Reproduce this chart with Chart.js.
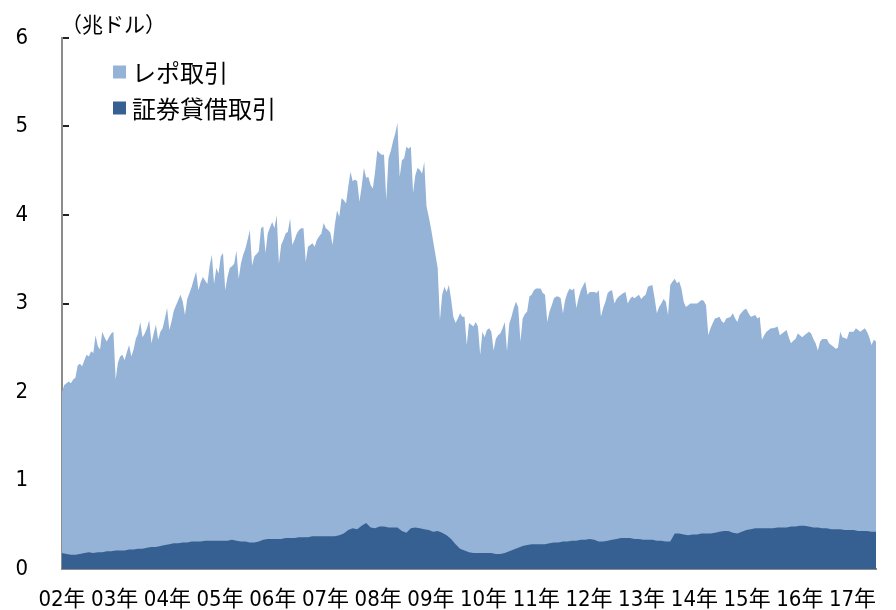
<!DOCTYPE html>
<html lang="ja">
<head>
<meta charset="utf-8">
<title>レポ取引・証券貸借取引</title>
<script src="https://cdn.jsdelivr.net/npm/chart.js@4/dist/chart.umd.min.js"></script>
<style>
  html, body { margin: 0; padding: 0; background: #fff; }
  canvas { display: block; }
</style>
</head>
<body>
<canvas id="graphique" width="896" height="610"></canvas>
<script>
// 上端（レポ取引＋証券貸借取引の合計）: 半月ごと、02年1月から（兆ドル）
const goukei = [
  2.00, 2.08, 2.10, 2.12, 2.10, 2.14, 2.16, 2.30, 2.32, 2.29, 2.36, 2.42, 2.40, 2.46, 2.44, 2.64, 2.52, 2.48, 2.68, 2.62, 2.57, 2.62, 2.66, 2.68, // 02
  2.14, 2.33, 2.40, 2.42, 2.36, 2.45, 2.53, 2.40, 2.48, 2.60, 2.66, 2.79, 2.62, 2.66, 2.72, 2.81, 2.55, 2.66, 2.76, 2.59, 2.68, 2.72, 2.83, 2.95, // 03
  2.70, 2.80, 2.92, 2.98, 3.04, 3.10, 3.02, 2.87, 3.05, 3.12, 3.19, 3.28, 3.36, 3.15, 3.24, 3.30, 3.26, 3.22, 3.42, 3.55, 3.22, 3.40, 3.34, 3.53, // 04
  3.57, 3.15, 3.30, 3.40, 3.42, 3.45, 3.60, 3.28, 3.45, 3.55, 3.62, 3.72, 3.83, 3.43, 3.53, 3.56, 3.59, 3.85, 3.87, 3.57, 3.79, 3.86, 3.92, 3.85, // 05
  4.00, 3.45, 3.66, 3.72, 3.79, 3.81, 3.96, 3.66, 3.72, 3.79, 3.83, 3.85, 3.85, 3.47, 3.64, 3.66, 3.68, 3.64, 3.72, 3.76, 3.79, 3.91, 3.85, 3.83, // 06
  3.80, 3.66, 3.89, 4.05, 3.98, 4.19, 4.17, 4.13, 4.32, 4.49, 4.38, 4.40, 4.38, 4.15, 4.32, 4.53, 4.42, 4.43, 4.34, 4.30, 4.49, 4.73, 4.70, 4.68, // 07
  4.68, 4.17, 4.64, 4.72, 4.83, 4.92, 5.04, 4.43, 4.62, 4.64, 4.77, 4.75, 4.77, 4.25, 4.45, 4.53, 4.51, 4.47, 4.60, 4.10, 3.98, 3.85, 3.70, 3.55, // 08
  3.40, 2.81, 3.10, 3.19, 3.13, 3.21, 3.05, 2.85, 2.78, 2.83, 2.89, 2.85, 2.85, 2.53, 2.78, 2.76, 2.74, 2.79, 2.74, 2.42, 2.68, 2.62, 2.70, 2.72, // 09
  2.68, 2.47, 2.60, 2.64, 2.66, 2.72, 2.79, 2.46, 2.77, 2.85, 2.95, 3.02, 2.96, 2.57, 2.83, 2.88, 2.91, 3.08, 3.10, 3.15, 3.17, 3.17, 3.17, 3.12, // 10
  3.10, 2.79, 2.91, 2.98, 3.06, 3.08, 3.08, 3.06, 2.89, 3.04, 3.12, 3.17, 3.15, 3.17, 2.95, 3.06, 3.15, 3.20, 3.25, 3.10, 3.13, 3.13, 3.13, 3.12, // 11
  3.15, 2.85, 2.95, 3.02, 3.12, 3.14, 3.15, 3.00, 3.05, 3.08, 3.10, 3.12, 3.13, 3.00, 3.05, 3.08, 3.06, 3.08, 3.10, 3.05, 3.08, 3.10, 3.19, 3.20, // 12
  3.21, 3.06, 2.89, 2.96, 3.00, 3.05, 3.02, 2.87, 3.21, 3.25, 3.28, 3.23, 3.25, 3.17, 3.02, 2.96, 2.98, 3.00, 3.00, 3.00, 3.00, 3.02, 3.04, 3.03, // 13
  2.98, 2.64, 2.72, 2.78, 2.83, 2.84, 2.85, 2.80, 2.78, 2.83, 2.84, 2.85, 2.89, 2.83, 2.79, 2.87, 2.90, 2.93, 2.94, 2.89, 2.85, 2.86, 2.87, 2.83, // 14
  2.85, 2.59, 2.64, 2.68, 2.70, 2.72, 2.72, 2.73, 2.74, 2.64, 2.66, 2.68, 2.70, 2.62, 2.55, 2.58, 2.60, 2.66, 2.64, 2.62, 2.64, 2.66, 2.68, 2.66, // 15
  2.60, 2.55, 2.47, 2.57, 2.60, 2.60, 2.60, 2.55, 2.53, 2.51, 2.49, 2.50, 2.68, 2.62, 2.61, 2.60, 2.68, 2.68, 2.68, 2.72, 2.70, 2.68, 2.70, 2.72, // 16
  2.68, 2.62, 2.53, 2.59, 2.57 // 17
];

// 証券貸借取引: 月ごと、02年1月から（兆ドル）
const shakuzai = [
  0.18, 0.17, 0.16, 0.16, 0.17, 0.18, 0.19, 0.18, 0.19, 0.19, 0.20, 0.20, // 02
  0.21, 0.21, 0.21, 0.22, 0.22, 0.23, 0.23, 0.24, 0.25, 0.25, 0.26, 0.27, // 03
  0.28, 0.29, 0.29, 0.30, 0.30, 0.31, 0.31, 0.31, 0.32, 0.32, 0.32, 0.32, // 04
  0.32, 0.32, 0.33, 0.32, 0.31, 0.31, 0.30, 0.30, 0.31, 0.33, 0.34, 0.34, // 05
  0.34, 0.34, 0.35, 0.35, 0.35, 0.36, 0.36, 0.36, 0.37, 0.37, 0.37, 0.37, // 06
  0.37, 0.37, 0.38, 0.40, 0.44, 0.46, 0.45, 0.49, 0.52, 0.47, 0.46, 0.48, // 07
  0.48, 0.47, 0.47, 0.47, 0.43, 0.41, 0.46, 0.47, 0.46, 0.45, 0.44, 0.42, // 08
  0.43, 0.41, 0.38, 0.34, 0.28, 0.23, 0.21, 0.19, 0.18, 0.18, 0.18, 0.18, // 09
  0.18, 0.17, 0.17, 0.18, 0.20, 0.22, 0.24, 0.26, 0.27, 0.28, 0.28, 0.28, // 10
  0.28, 0.29, 0.30, 0.30, 0.31, 0.31, 0.32, 0.32, 0.33, 0.33, 0.34, 0.33, // 11
  0.31, 0.31, 0.32, 0.33, 0.34, 0.35, 0.35, 0.35, 0.34, 0.34, 0.33, 0.33, // 12
  0.33, 0.32, 0.32, 0.31, 0.31, 0.40, 0.40, 0.39, 0.38, 0.39, 0.39, 0.40, // 13
  0.40, 0.40, 0.41, 0.42, 0.43, 0.43, 0.41, 0.40, 0.42, 0.44, 0.45, 0.46, // 14
  0.46, 0.46, 0.46, 0.46, 0.47, 0.47, 0.47, 0.48, 0.48, 0.49, 0.49, 0.48, // 15
  0.47, 0.47, 0.46, 0.46, 0.45, 0.45, 0.45, 0.44, 0.44, 0.44, 0.43, 0.43, // 16
  0.43, 0.42, 0.42 // 17
];

// 目盛りラベル
const nenLabels = ["02年","03年","04年","05年","06年","07年","08年","09年","10年","11年","12年","13年","14年","15年","16年","17年"];
const yTicks = [0, 1, 2, 3, 4, 5, 6];
const seriesNames = ["証券貸借取引", "レポ取引"];
const tani = "（兆ドル）";

const BLEU_CLAIR = "#95b3d7";
const BLEU_FONCE = "#376092";
const POLICE_CHIFFRES = '"Liberation Sans Narrow", "DejaVu Sans Condensed", "Noto Sans CJK JP", sans-serif';
const POLICE_JP = '"Noto Sans CJK JP", sans-serif';

// 凡例と単位（グラフ内に手書き）
const hanreiPlugin = {
  id: "hanrei",
  afterDraw(chart) {
    const ctx = chart.ctx;
    ctx.save();
    ctx.fillStyle = "#000";
    ctx.textBaseline = "middle";
    ctx.textAlign = "left";
    ctx.font = "21px " + POLICE_JP;
    ctx.fillText(tani, 61, 24);

    // レポ取引 が上、証券貸借取引 が下
    const items = [
      { label: chart.data.datasets[1].label, color: BLEU_CLAIR, y: 72 },
      { label: chart.data.datasets[0].label, color: BLEU_FONCE, y: 108 }
    ];
    ctx.font = "24px " + POLICE_JP;
    for (const it of items) {
      ctx.fillStyle = it.color;
      ctx.fillRect(113, it.y - 6.5, 13, 13);
      ctx.fillStyle = "#000";
      ctx.fillText(it.label, 132, it.y + 1);
    }
    ctx.restore();
  }
};

// 目盛りラベルの余白がグラフ領域を押し縮めないように
function sansMarge(scale) {
  scale.paddingTop = 0;
  scale.paddingBottom = 0;
}

const data = {
  datasets: [
    {
      label: seriesNames[0],
      data: shakuzai.map((v, i) => ({ x: i, y: v })),
      backgroundColor: BLEU_FONCE,
      borderWidth: 0,
      fill: "origin",
      pointRadius: 0,
      tension: 0
    },
    {
      label: seriesNames[1],
      data: goukei.map((v, i) => ({ x: i / 2, y: v })),
      backgroundColor: BLEU_CLAIR,
      borderWidth: 0,
      fill: "origin",
      pointRadius: 0,
      tension: 0
    }
  ]
};

const config = {
  type: "line",
  data: data,
  options: {
    responsive: false,
    animation: false,
    devicePixelRatio: 1,
    layout: { padding: { top: 38, right: 20, left: 0, bottom: 0 } },
    plugins: {
      legend: { display: false },
      tooltip: { enabled: false }
    },
    scales: {
      x: {
        type: "linear",
        position: "bottom",
        z: 1,
        min: 0,
        max: 182,
        grid: {
          drawOnChartArea: false,
          drawTicks: true,
          tickLength: -6,
          color: "#222",
          lineWidth: 2
        },
        border: { color: "#8c8c8c", width: 2 },
        ticks: { display: false, stepSize: 12, includeBounds: false },
        afterFit(scale) { scale.height = 1; }
      },
      xl: {
        type: "linear",
        position: "bottom",
        min: 0,
        max: 15.446,
        grid: { display: false },
        border: { display: false },
        ticks: {
          stepSize: 1,
          includeBounds: false,
          maxRotation: 0,
          autoSkip: false,
          padding: 9,
          color: "#000",
          font: { size: 22, family: POLICE_CHIFFRES },
          callback: (v) => nenLabels[v] ?? ""
        },
        afterFit(scale) { scale.height = 40; }
      },
      y: {
        min: 0,
        max: 6,
        z: 1,
        afterBuildTicks(scale) { scale.ticks = yTicks.map(v => ({ value: v })); },
        grid: {
          drawOnChartArea: false,
          drawTicks: true,
          tickLength: -7,
          color: "#222",
          lineWidth: 2
        },
        border: { color: "#8c8c8c", width: 2 },
        ticks: {
          padding: 41,
          color: "#000",
          font: { size: 22, family: POLICE_CHIFFRES }
        },
        afterFit(scale) { scale.width = 62; sansMarge(scale); }
      }
    }
  },
  plugins: [hanreiPlugin]
};

new Chart(document.querySelector("#graphique"), config);
</script>
</body>
</html>
